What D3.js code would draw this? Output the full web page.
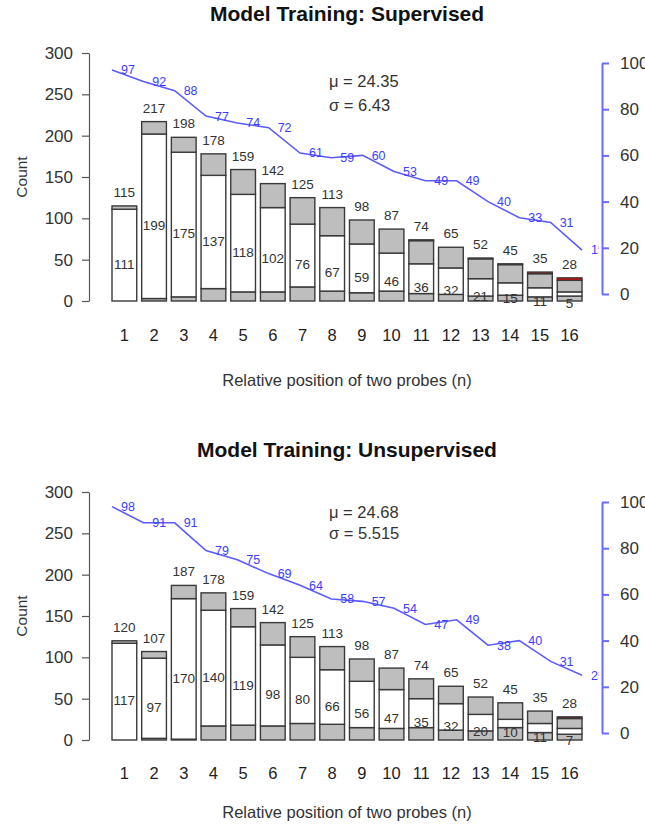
<!DOCTYPE html>
<html>
<head>
<meta charset="utf-8">
<script src="https://cdn.jsdelivr.net/npm/d3@7"></script>
<style>
  body { margin: 0; background: #fff; }
  svg { display: block; }
  text { font-family: "Liberation Sans", Arial, Helvetica, sans-serif; }
</style>
</head>
<body>
<svg id="chart" width="645" height="826"></svg>
<script>
// Relative probe positions (x categories)
const positions = ["1","2","3","4","5","6","7","8","9","10","11","12","13","14","15","16"];
const countTicks = [0, 50, 100, 150, 200, 250, 300];
const pctTicks = [0, 20, 40, 60, 80, 100];

// Supervised training
const supTotal = [115, 217, 198, 178, 159, 142, 125, 113, 98, 87, 74, 65, 52, 45, 35, 28];
const supWhite = [111, 199, 175, 137, 118, 102, 76, 67, 59, 46, 36, 32, 21, 15, 11, 5];
const supLow   = [0, 3, 5, 15, 11, 11, 17, 12, 10, 12, 9, 8, 6, 7, 5, 6];
const supRed   = [0, 0, 0, 0, 0, 0, 0, 0, 0, 0, 1, 0, 1, 1, 2, 3];
const supPct   = [97, 92, 88, 77, 74, 72, 61, 59, 60, 53, 49, 49, 40, 33, 31, 19];

// Unsupervised training
const unsTotal = [120, 107, 187, 178, 159, 142, 125, 113, 98, 87, 74, 65, 52, 45, 35, 28];
const unsWhite = [117, 97, 170, 140, 119, 98, 80, 66, 56, 47, 35, 32, 20, 10, 11, 7];
const unsLow   = [0, 2, 1, 17, 18, 17, 20, 19, 15, 14, 15, 12, 11, 15, 9, 7];
const unsRed   = [0, 0, 0, 0, 0, 0, 0, 0, 0, 0, 0, 0, 0, 0, 0, 2];
const unsPct   = [98, 91, 91, 79, 75, 69, 64, 58, 57, 54, 47, 49, 38, 40, 31, 25];

const panels = [
  { title: "Model Training: Supervised", total: supTotal, white: supWhite, low: supLow, red: supRed, pct: supPct,
    mu: "24.35", sigma: "6.43", redColor: "#e80000",
    y0: 301, yTop: 53, titleY: 21, tickY: 341, xTitleY: 386, muY: 87, sigmaY: 111 },
  { title: "Model Training: Unsupervised", total: unsTotal, white: unsWhite, low: unsLow, red: unsRed, pct: unsPct,
    mu: "24.68", sigma: "5.515", redColor: "#9e0000",
    y0: 740, yTop: 492, titleY: 457, tickY: 779, xTitleY: 818, muY: 518, sigmaY: 539 }
];

const svg = d3.select("#chart");
const xLeft = 112, xRight = 582;
const x = d3.scaleBand(positions, [xLeft, xRight]).paddingInner(0.2 / 1.2).paddingOuter(0);
const xp = d3.scalePoint(positions, [xLeft, xRight]).padding(0);
const axisX = 89, raxisX = 602;
const keys = ["low", "white", "high", "red"];
const inkGrey = "#333";

panels.forEach((p, pi) => {
  const g = svg.append("g");
  const y = d3.scaleLinear([0, 300], [p.y0, p.yTop]);
  const yR = d3.scaleLinear([0, 100], [p.y0 - 7, p.yTop + 10]);

  const rows = positions.map((pos, i) => ({
    pos,
    low: p.low[i],
    white: p.white[i],
    red: p.red[i],
    high: p.total[i] - p.low[i] - p.white[i] - p.red[i],
    total: p.total[i]
  }));
  const series = d3.stack().keys(keys)(rows);
  const fills = { low: "#bebebe", white: "#ffffff", high: "#bebebe", red: p.redColor };

  // Stacked bars
  const barG = g.append("g");
  rows.forEach((r, i) => {
    series.forEach(s => {
      const seg = s[i];
      if (seg[1] - seg[0] <= 0) return;
      barG.append("rect")
        .attr("x", x(r.pos))
        .attr("width", x.bandwidth())
        .attr("y", y(seg[1]))
        .attr("height", y(seg[0]) - y(seg[1]))
        .attr("fill", fills[s.key])
        .attr("stroke", "#3a3a3a")
        .attr("stroke-width", 1.4);
    });
  });

  // Totals above bars
  g.append("g").selectAll("text").data(rows).join("text")
    .attr("x", d => x(d.pos) + x.bandwidth() / 2)
    .attr("y", d => y(d.total) - 9)
    .attr("text-anchor", "middle")
    .attr("font-size", 13.5)
    .attr("fill", inkGrey)
    .text(d => d.total);

  // Count of the white segment
  g.append("g").selectAll("text").data(rows).join("text")
    .attr("x", d => x(d.pos) + x.bandwidth() / 2)
    .attr("y", d => y(d.low + d.white / 2) + 9)
    .attr("dy", "0.35em")
    .attr("text-anchor", "middle")
    .attr("font-size", 13.5)
    .attr("fill", inkGrey)
    .text(d => d.white);

  // Left count axis
  const la = g.append("g")
    .attr("transform", `translate(${axisX},0)`)
    .call(d3.axisLeft(y).tickValues(countTicks).tickSize(7).tickSizeOuter(0).tickPadding(9));
  la.select(".domain").attr("stroke", "#555").attr("stroke-width", 1.2);
  la.selectAll(".tick line").attr("stroke", "#555").attr("stroke-width", 1.2);
  la.selectAll(".tick text").attr("font-size", 17).attr("fill", inkGrey)
    .attr("font-family", "'Liberation Sans', Arial, sans-serif");

  g.append("text")
    .attr("transform", `translate(22,${(p.y0 + p.yTop) / 2}) rotate(-90)`)
    .attr("text-anchor", "middle")
    .attr("dy", "0.35em")
    .attr("font-size", 15.5)
    .attr("fill", inkGrey)
    .text("Count");

  // Right percent axis
  const ra = g.append("g")
    .attr("transform", `translate(${raxisX},0)`)
    .call(d3.axisRight(yR).tickValues(pctTicks).tickSize(7).tickSizeOuter(0).tickPadding(11));
  ra.select(".domain").attr("stroke", "#6a6aff").attr("stroke-width", 2);
  ra.selectAll(".tick line").attr("stroke", "#6a6aff").attr("stroke-width", 2);
  ra.selectAll(".tick text").attr("font-size", 17).attr("fill", inkGrey)
    .attr("font-family", "'Liberation Sans', Arial, sans-serif");

  // Percent line with value labels, clipped to the plot region
  const clipId = "plotclip" + pi;
  g.append("clipPath").attr("id", clipId).append("rect")
    .attr("x", 95).attr("y", p.yTop - 20).attr("width", 504).attr("height", p.y0 - p.yTop + 30);
  const lg = g.append("g").attr("clip-path", `url(#${clipId})`);
  const line = d3.line().x((d, i) => xp(positions[i])).y(d => yR(d)).curve(d3.curveLinear);
  lg.append("path").datum(p.pct)
    .attr("d", line)
    .attr("fill", "none")
    .attr("stroke", "#5b5bff")
    .attr("stroke-width", 1.6);
  lg.selectAll("text.pct").data(p.pct).join("text")
    .attr("class", "pct")
    .attr("x", (d, i) => xp(positions[i]) + 9)
    .attr("y", d => yR(d))
    .attr("dy", "0.35em")
    .attr("font-size", 12.5)
    .attr("fill", "#3d3dff")
    .text(d => d);

  // Category labels and axis title
  g.append("g").selectAll("text").data(positions).join("text")
    .attr("x", d => x(d) + x.bandwidth() / 2)
    .attr("y", p.tickY)
    .attr("text-anchor", "middle")
    .attr("font-size", 16.5)
    .attr("fill", "#222")
    .text(d => d);

  g.append("text")
    .attr("x", 347)
    .attr("y", p.xTitleY)
    .attr("text-anchor", "middle")
    .attr("font-size", 16.5)
    .attr("fill", inkGrey)
    .text("Relative position of two probes (n)");

  // Title
  g.append("text")
    .attr("x", 347)
    .attr("y", p.titleY)
    .attr("text-anchor", "middle")
    .attr("font-size", 21)
    .attr("font-weight", "bold")
    .attr("fill", "#111")
    .text(p.title);

  // Summary statistics
  g.append("text").attr("x", 329).attr("y", p.muY)
    .attr("font-size", 16.5).attr("fill", inkGrey).text("\u03bc = " + p.mu);
  g.append("text").attr("x", 329).attr("y", p.sigmaY)
    .attr("font-size", 16.5).attr("fill", inkGrey).text("\u03c3 = " + p.sigma);
});
</script>
</body>
</html>
